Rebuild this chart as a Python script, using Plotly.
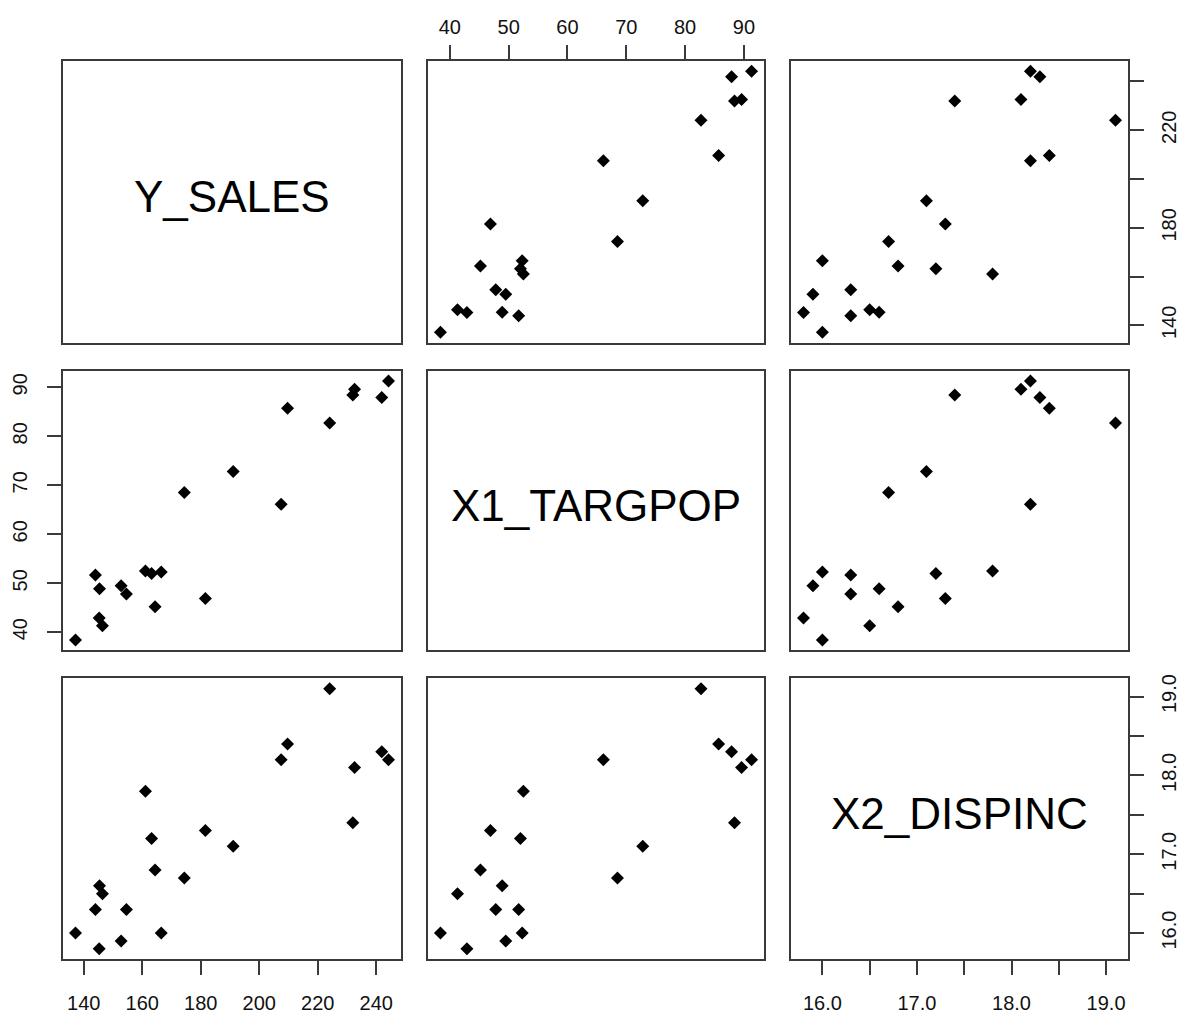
import plotly.graph_objects as go

# Dwaine Studios data: sales, target population, disposable income
y_sales = [174.4, 164.4, 244.2, 154.6, 181.6, 207.5, 152.8, 163.2, 145.4, 137.2,
           241.9, 191.1, 232.0, 145.3, 161.1, 209.7, 146.4, 144.0, 232.6, 224.1, 166.5]
x1_targpop = [68.5, 45.2, 91.3, 47.8, 46.9, 66.1, 49.5, 52.0, 48.9, 38.4,
              87.9, 72.8, 88.4, 42.9, 52.5, 85.7, 41.3, 51.7, 89.6, 82.7, 52.3]
x2_dispinc = [16.7, 16.8, 18.2, 16.3, 17.3, 18.2, 15.9, 17.2, 16.6, 16.0,
              18.3, 17.1, 17.4, 15.8, 17.8, 18.4, 16.5, 16.3, 18.1, 19.1, 16.0]

var_names = ["Y_SALES", "X1_TARGPOP", "X2_DISPINC"]
variables = [y_sales, x1_targpop, x2_dispinc]

# tick positions and labels per variable (blank = tick without label)
tick_vals = [
    [140, 160, 180, 200, 220, 240],
    [40, 50, 60, 70, 80, 90],
    [16.0, 16.5, 17.0, 17.5, 18.0, 18.5, 19.0],
]
tick_text_horiz = [
    ["140", "160", "180", "200", "220", "240"],
    ["40", "50", "60", "70", "80", "90"],
    ["16.0", "", "17.0", "", "18.0", "", "19.0"],
]
tick_text_vert = [
    ["140", "", "180", "", "220", ""],
    ["40", "50", "60", "70", "80", "90"],
    ["16.0", "", "17.0", "", "18.0", "", "19.0"],
]

W, H = 1186, 1016
col_px = [(63, 401), (428, 764), (791, 1128)]
row_px = [(57, 340), (368, 649), (677, 959)]


def padded(v):
    lo, hi = min(v), max(v)
    d = (hi - lo) * 0.04
    return [lo - d, hi + d]


fig = go.Figure()
font_family = "Liberation Sans, Arial, sans-serif"
line_col = "#3a3a3a"

n = 3
for i in range(n):          # row -> y variable
    for j in range(n):      # column -> x variable
        k = i * n + j + 1
        xa = "x" if k == 1 else f"x{k}"
        ya = "y" if k == 1 else f"y{k}"
        xkey = "xaxis" if k == 1 else f"xaxis{k}"
        ykey = "yaxis" if k == 1 else f"yaxis{k}"

        x0, x1 = col_px[j]
        r0, r1 = row_px[i]
        xdom = [x0 / W, x1 / W]
        ydom = [1 - r1 / H, 1 - r0 / H]

        xaxis = dict(domain=xdom, anchor=ya, range=padded(variables[j]),
                     showgrid=False, zeroline=False, showline=True, mirror=True,
                     linecolor=line_col, linewidth=1.5,
                     showticklabels=False, ticks="",
                     tickfont=dict(family=font_family, size=20, color="#111"))
        yaxis = dict(domain=ydom, anchor=xa, range=padded(variables[i]),
                     showgrid=False, zeroline=False, showline=True, mirror=True,
                     linecolor=line_col, linewidth=1.5,
                     showticklabels=False, ticks="",
                     tickfont=dict(family=font_family, size=20, color="#111"))

        tick_common = dict(ticks="outside", ticklen=14, tickwidth=1.5,
                           tickcolor=line_col, showticklabels=True,
                           tickmode="array")

        # horizontal axes: top on even columns (row 1), bottom on odd columns (last row)
        if i == n - 1 and j % 2 == 0:
            xaxis.update(tick_common, side="bottom", tickvals=tick_vals[j],
                         ticktext=tick_text_horiz[j], ticklabelstandoff=11)
        if i == 0 and j % 2 == 1:
            xaxis.update(tick_common, side="top", tickvals=tick_vals[j],
                         ticktext=tick_text_horiz[j], ticklabelstandoff=3)
        # vertical axes: left on even rows (first column), right on odd rows (last column)
        if j == 0 and i % 2 == 1:
            yaxis.update(tick_common, side="left", tickvals=tick_vals[i],
                         ticktext=tick_text_vert[i], tickangle=-90,
                         ticklabelstandoff=12)
        if j == n - 1 and i % 2 == 0:
            yaxis.update(tick_common, side="right", tickvals=tick_vals[i],
                         ticktext=tick_text_vert[i], tickangle=-90,
                         ticklabelstandoff=8)

        fig.update_layout({xkey: xaxis, ykey: yaxis})

        if i == j:
            # empty trace so the diagonal panel's frame and axes are drawn
            fig.add_trace(go.Scatter(x=[None], y=[None], mode="markers",
                                     xaxis=xa, yaxis=ya, showlegend=False,
                                     hoverinfo="skip"))
            fig.add_annotation(x=sum(xdom) / 2, y=sum(ydom) / 2,
                               xref="paper", yref="paper",
                               xanchor="center", yanchor="middle", yshift=5,
                               text=var_names[i], showarrow=False,
                               font=dict(family=font_family, size=44, color="#000"))
        else:
            fig.add_trace(go.Scatter(
                x=variables[j], y=variables[i], mode="markers",
                xaxis=xa, yaxis=ya, showlegend=False,
                marker=dict(symbol="diamond", size=10, color="#000",
                            line=dict(width=0)),
            ))

fig.update_layout(width=W, height=H, margin=dict(l=0, r=0, t=0, b=0),
                  paper_bgcolor="white", plot_bgcolor="white",
                  font=dict(family=font_family))

fig.write_html("out.html")
